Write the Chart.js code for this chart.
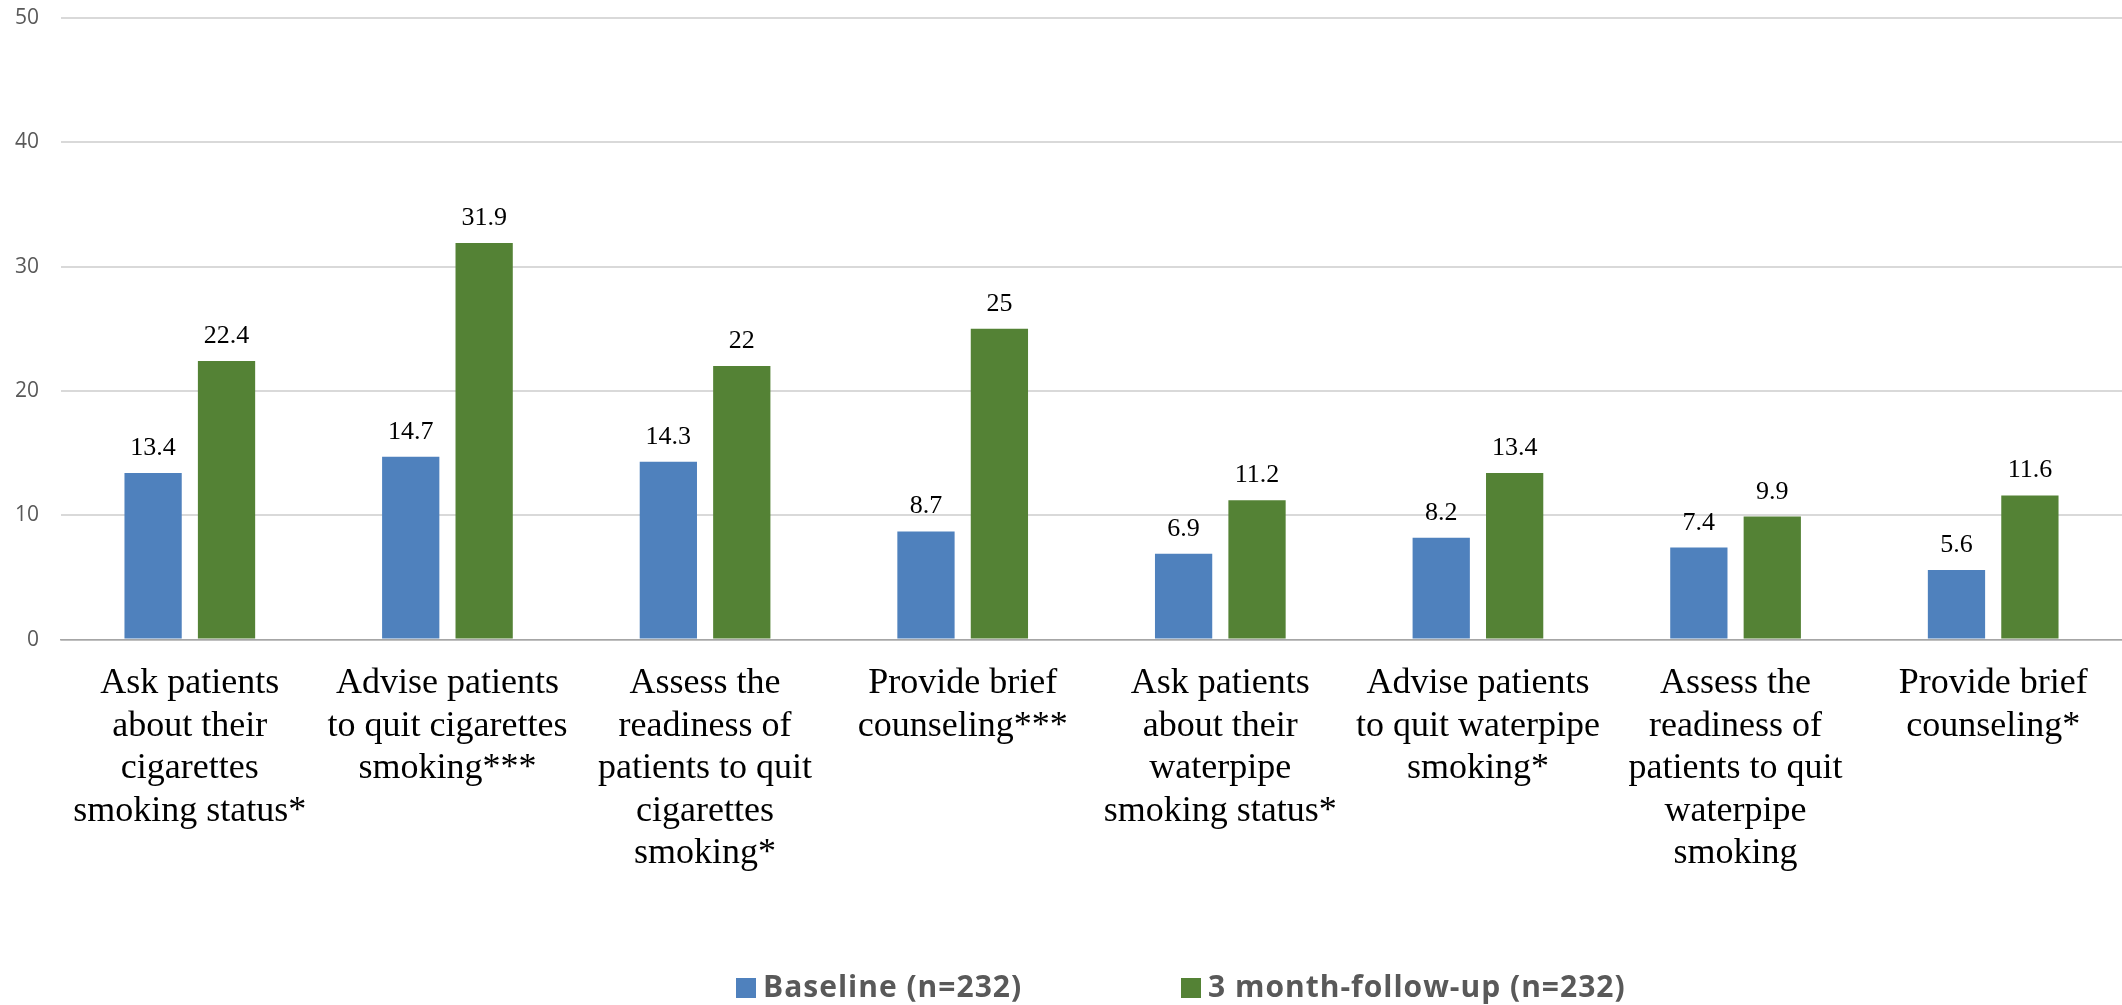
<!DOCTYPE html>
<html><head><meta charset="utf-8">
<script src="https://cdn.jsdelivr.net/npm/chart.js@4.4.0/dist/chart.umd.min.js"></script>
<style>html,body{margin:0;padding:0;background:#fff;} #wrap{width:2122px;height:1005px;position:relative;}</style>
</head><body><div id="wrap"><canvas id="c"></canvas></div>
<script>
const categories = [
  ["Ask patients","about their","cigarettes","smoking status*"],
  ["Advise patients","to quit cigarettes","smoking***"],
  ["Assess the","readiness of","patients to quit","cigarettes","smoking*"],
  ["Provide brief","counseling***"],
  ["Ask patients","about their","waterpipe","smoking status*"],
  ["Advise patients","to quit waterpipe","smoking*"],
  ["Assess the","readiness of","patients to quit","waterpipe","smoking"],
  ["Provide brief","counseling*"]
];
const baseline = [13.4, 14.7, 14.3, 8.7, 6.9, 8.2, 7.4, 5.6];
const followUp = [22.4, 31.9, 22, 25, 11.2, 13.4, 9.9, 11.6];
const seriesNames = ["Baseline (n=232)", "3 month-follow-up (n=232)"];
const seriesColors = ["#4f81bd", "#548235"];
const yMin = 0, yMax = 50, yStep = 10;

const valueLabels = {
  id: 'valueLabels',
  afterDatasetsDraw(chart) {
    const ctx = chart.ctx;
    ctx.save();
    ctx.font = '26px "Liberation Serif"';
    ctx.fillStyle = '#000';
    ctx.textAlign = 'center';
    ctx.textBaseline = 'alphabetic';
    chart.data.datasets.forEach((ds, i) => {
      chart.getDatasetMeta(i).data.forEach((bar, j) => {
        ctx.fillText(String(ds.data[j]), bar.x, bar.y - 18);
      });
    });
    ctx.restore();
  }
};

const bottomLegend = {
  id: 'bottomLegend',
  afterDraw(chart) {
    const ctx = chart.ctx;
    ctx.save();
    ctx.font = 'bold 30px "Open Sans"';
    try { ctx.letterSpacing = '1px'; } catch (e) {}
    ctx.textBaseline = 'middle';
    ctx.textAlign = 'left';
    const yMid = 988;
    const starts = [736, 1181];
    chart.data.datasets.forEach((ds, i) => {
      const x = starts[i];
      ctx.fillStyle = ds.backgroundColor;
      ctx.fillRect(x, yMid - 10, 20, 20);
      ctx.fillStyle = '#595959';
      ctx.fillText(ds.label, x + 27, yMid);
    });
    ctx.restore();
  }
};

new Chart(document.getElementById('c'), {
  type: 'bar',
  data: {
    labels: categories,
    datasets: [
      { label: seriesNames[0], data: baseline, backgroundColor: seriesColors[0] },
      { label: seriesNames[1], data: followUp, backgroundColor: seriesColors[1] }
    ]
  },
  options: {
    responsive: true,
    maintainAspectRatio: false,
    animation: false,
    devicePixelRatio: 1,
    categoryPercentage: 0.57,
    barPercentage: 0.78,
    layout: { padding: { left: 14, right: 0, top: 18, bottom: 107 } },
    plugins: { legend: { display: false }, tooltip: { enabled: false } },
    scales: {
      x: {
        grid: { display: false, drawTicks: false },
        border: { display: true, color: '#a6a6a6', width: 1.5 },
        ticks: {
          padding: 23,
          maxRotation: 0,
          autoSkip: false,
          color: '#000',
          font: { family: '"Liberation Serif"', size: 36, lineHeight: 1.18 }
        }
      },
      y: {
        min: yMin, max: yMax,
        afterFit(scale) { scale.width = 47; scale.paddingTop = 0; scale.paddingBottom = 0; },
        grid: { color: '#d9d9d9', lineWidth: 2, drawTicks: false },
        border: { display: false },
        ticks: {
          stepSize: yStep,
          padding: 22,
          color: '#595959',
          font: { family: '"Open Sans"', size: 21 }
        }
      }
    }
  },
  plugins: [valueLabels, bottomLegend]
});
</script></body></html>
